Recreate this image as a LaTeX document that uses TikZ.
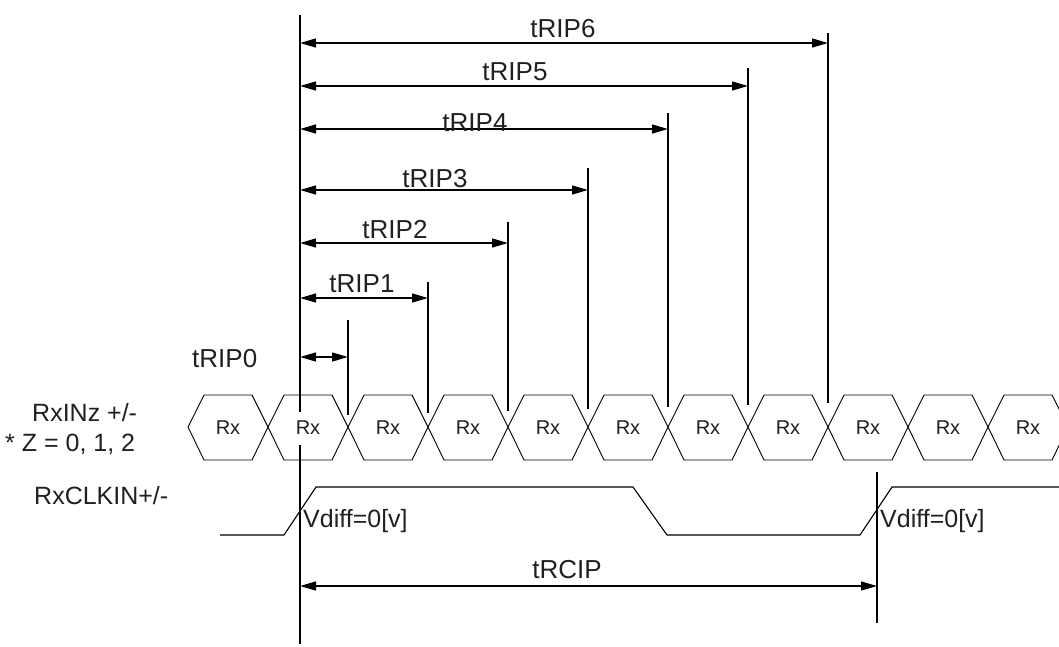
\documentclass[tikz,border=0pt]{standalone}
\usepackage{fontspec}
\setmainfont{Liberation Sans}
\usetikzlibrary{arrows.meta}
\definecolor{ink}{HTML}{231F20}
\begin{document}
\begin{tikzpicture}[x=1pt,y=-1pt,
  dimline/.style={line width=1.3pt,{Triangle[length=16pt,width=9pt]}-{Triangle[length=16pt,width=9pt]}},
  vline/.style={line width=1.2pt},
  wave/.style={line width=1.1pt},
  hexline/.style={line width=0.9pt},
  lbl/.style={font=\fontsize{26}{30}\selectfont, inner sep=0pt, text=ink},
  sidelbl/.style={font=\fontsize{25}{29}\selectfont, inner sep=0pt, text=ink, anchor=base west},
  rxlbl/.style={font=\fontsize{20}{24}\selectfont, inner sep=0pt, text=ink}]
\useasboundingbox (0,0) rectangle (1059,646);
\begin{scope}
\clip (0,0) rectangle (1059,646);
% data hexagons
\foreach \i in {0,...,10}{
  \pgfmathsetmacro\a{188+80*\i}
  \draw[hexline] (\a,427) -- (\a+16,395) -- (\a+64,395) -- (\a+80,427) -- (\a+64,460) -- (\a+16,460) -- cycle;
  \node[rxlbl] (rx\i) at (\a+40,428) {Rx};
}
% clock waveform
\coordinate (c0) at (220,535);
\coordinate (c1) at (284,535);
\coordinate (c2) at (316,487);
\coordinate (c3) at (633,487);
\coordinate (c4) at (667,535);
\coordinate (c5) at (860,535);
\coordinate (c6) at (892,487);
\coordinate (c7) at (1070,487);
\draw[wave] (c0) -- (c1) -- (c2) -- (c3) -- (c4) -- (c5) -- (c6) -- (c7);
\end{scope}
% main reference line
\coordinate (m0) at (300,15);
\coordinate (m1) at (300,412);
\coordinate (m2) at (300,445);
\coordinate (m3) at (300,644);
\draw[vline] (m0) -- (m1);
\draw[vline] (m2) -- (m3);
% end lines for tRIP0..6
\foreach \k/\top/\y in {0/320/357, 1/282/298, 2/222/243, 3/168/190, 4/113/129, 5/68/86, 6/33/43}{
  \pgfmathsetmacro\xx{348+80*\k}
  \pgfmathsetmacro\bot{415-2*\k}
  \coordinate (t\k top) at (\xx,\top);
  \coordinate (t\k bot) at (\xx,\bot);
  \coordinate (t\k a) at (300,\y);
  \coordinate (t\k b) at (\xx,\y);
  \draw[vline] (t\k top) -- (t\k bot);
  \draw[dimline] (t\k a) -- (t\k b);
}
\node[lbl, anchor=base] (l6) at (563,37) {tRIP6};
\node[lbl, anchor=base] (l5) at (515,80) {tRIP5};
\node[lbl, anchor=base] (l4) at (475,131) {tRIP4};
\node[lbl, anchor=base] (l3) at (435,187) {tRIP3};
\node[lbl, anchor=base] (l2) at (395,238) {tRIP2};
\node[lbl, anchor=base] (l1) at (362,292) {tRIP1};
\node[lbl, anchor=base west] (l0) at (192,367) {tRIP0};
% tRCIP
\coordinate (r0) at (877,472);
\coordinate (r1) at (877,623);
\draw[vline] (r0) -- (r1);
\coordinate (ra) at (300,586);
\coordinate (rb) at (877,586);
\draw[dimline] (ra) -- (rb);
\node[lbl, anchor=base] (lr) at (567,578) {tRCIP};
% Vdiff labels
\node[sidelbl] (v1) at (303,527) {Vdiff=0[v]};
\node[sidelbl] (v2) at (880,527) {Vdiff=0[v]};
% signal names
\node[sidelbl] (s1) at (32,421) {RxINz +/-};
\node[sidelbl] (s2) at (5,451) {* Z = 0, 1, 2};
\node[sidelbl] (s3) at (34,504) {RxCLKIN+/-};
\end{tikzpicture}
\end{document}
